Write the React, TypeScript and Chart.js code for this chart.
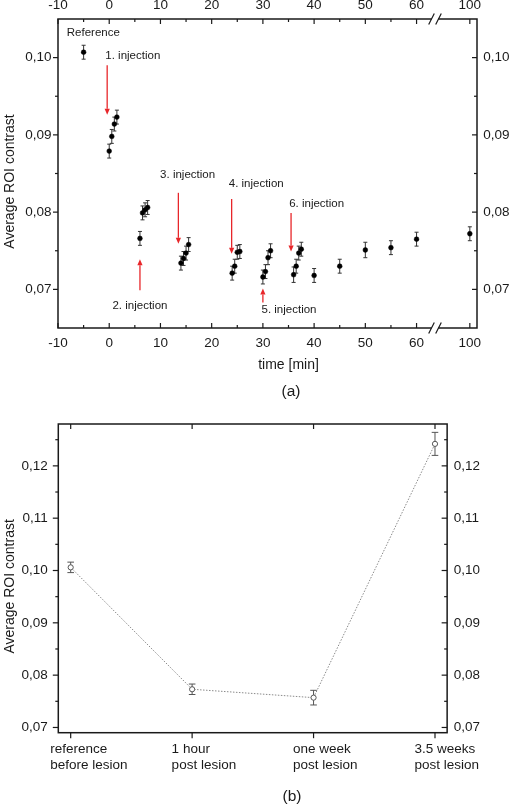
import React, { useEffect, useRef } from "react";
import { Chart, registerables } from "chart.js";
Chart.register(...registerables);

const FONT = "'Liberation Sans', Arial, Helvetica, sans-serif";
const INK = "#1a1a1a";
const RED = "#e8262a";

// ---------- Panel (a) data ----------
const timeMin = [-5, 0, 0.5, 1, 1.5, 6, 6.5, 7, 7.5, 14, 14.5, 15, 15.5, 24, 24.5, 25, 25.5, 30, 30.5, 31, 31.5, 36, 36.5, 37, 37.5, 40, 45, 50, 55, 60, 100];
const roiA = [0.1007, 0.0879, 0.0898, 0.0914, 0.0923, 0.0766, 0.0799, 0.0803, 0.0806, 0.0734, 0.0740, 0.0747, 0.0758, 0.0721, 0.0730, 0.0748, 0.0749, 0.0716, 0.0723, 0.0741, 0.0750, 0.0719, 0.0730, 0.0747, 0.0752, 0.0718, 0.0730, 0.0751, 0.0754, 0.0765, 0.0772];
const roiErrA = [0.0009, 0.0009, 0.0009, 0.0009, 0.0009, 0.0009, 0.0009, 0.0009, 0.0009, 0.0009, 0.0009, 0.0009, 0.0009, 0.0009, 0.0009, 0.0009, 0.0009, 0.0009, 0.0009, 0.0009, 0.0009, 0.0010, 0.0009, 0.0009, 0.0009, 0.0009, 0.0009, 0.0010, 0.0009, 0.0009, 0.0009];
const timeTicks = [-10, 0, 10, 20, 30, 40, 50, 60, 100];
const timeMinorTicks = [-5, 5, 15, 25, 35, 45, 55];
const yTicksA = [0.07, 0.08, 0.09, 0.1];
const yMinorA = [0.075, 0.085, 0.095];
const BREAK_AT = 63.6;
const BREAK_SHIFT = 29.6;

const noteText = ["Reference", "1. injection", "2. injection", "3. injection", "4. injection", "5. injection", "6. injection"];
const noteX = [-3.1, 4.6, 6.0, 15.3, 28.7, 35.1, 40.5];
const noteY = [0.1032, 0.1002, 0.0679, 0.0848, 0.0836, 0.0674, 0.0811];
const arrowX = [-0.4, 6.0, 13.5, 23.9, 30.0, 35.5];
const arrowFrom = [0.0990, 0.0699, 0.0825, 0.0817, 0.0683, 0.0799];
const arrowTo = [0.0926, 0.0739, 0.0759, 0.0746, 0.0701, 0.0749];

// ---------- Panel (b) data ----------
const stages = [
  ["reference", "before lesion"],
  ["1 hour", "post lesion"],
  ["one week", "post lesion"],
  ["3.5 weeks", "post lesion"],
];
const roiB = [0.1006, 0.0773, 0.0757, 0.1242];
const roiErrB = [0.0010, 0.0010, 0.0014, 0.0022];
const yTicksB = [0.07, 0.08, 0.09, 0.1, 0.11, 0.12];
const yMinorB = [0.075, 0.085, 0.095, 0.105, 0.115, 0.125];

const toAxis = (t: number) => (t > BREAK_AT ? t - BREAK_SHIFT : t);
const fromAxis = (v: number) => (v > BREAK_AT ? v + BREAK_SHIFT : v);
const fmtY = (v: number) => v.toFixed(2).replace(".", ",");

type TickSpec = { axis: string; values: number[]; len: number; inward: boolean };

function framePlugin(specs: TickSpec[], breakValue: number | null) {
  return {
    id: "frame",
    afterDraw(chart: any) {
      const { ctx, chartArea: ca } = chart;
      ctx.save();
      ctx.strokeStyle = INK;
      ctx.lineWidth = 1.5;
      ctx.strokeRect(ca.left, ca.top, ca.right - ca.left, ca.bottom - ca.top);
      ctx.lineWidth = 1.2;
      for (const s of specs) {
        const sc = chart.scales[s.axis];
        const pos = sc.options.position;
        for (const v of s.values) {
          const p = sc.getPixelForValue(v);
          ctx.beginPath();
          if (pos === "left" || pos === "right") {
            const x0 = pos === "left" ? ca.left : ca.right;
            const dir = (pos === "left" ? -1 : 1) * (s.inward ? -1 : 1);
            ctx.moveTo(x0, p);
            ctx.lineTo(x0 + dir * s.len, p);
          } else {
            const y0 = pos === "top" ? ca.top : ca.bottom;
            const dir = (pos === "top" ? -1 : 1) * (s.inward ? -1 : 1);
            ctx.moveTo(p, y0);
            ctx.lineTo(p, y0 + dir * s.len);
          }
          ctx.stroke();
        }
      }
      if (breakValue !== null) {
        const xb = chart.scales.x.getPixelForValue(breakValue);
        for (const y0 of [ca.top, ca.bottom]) {
          ctx.fillStyle = "#ffffff";
          ctx.fillRect(xb - 3.5, y0 - 2, 7, 4);
          ctx.strokeStyle = INK;
          ctx.lineWidth = 1.2;
          for (const dx of [-3.5, 3.5]) {
            ctx.beginPath();
            ctx.moveTo(xb + dx - 2.8, y0 + 5.5);
            ctx.lineTo(xb + dx + 2.8, y0 - 5.5);
            ctx.stroke();
          }
        }
      }
      ctx.restore();
    },
  };
}

function errorBarPlugin(errs: number[], color: string, cap: number) {
  return {
    id: "errbars",
    beforeDatasetsDraw(chart: any) {
      const { ctx } = chart;
      const meta = chart.getDatasetMeta(0);
      const ys = chart.scales[meta.yAxisID];
      const data = chart.data.datasets[0].data as any[];
      ctx.save();
      ctx.strokeStyle = color;
      ctx.lineWidth = 1;
      meta.data.forEach((pt: any, i: number) => {
        const v = data[i].y;
        const e = errs[i];
        const yt = ys.getPixelForValue(v + e);
        const yb = ys.getPixelForValue(v - e);
        ctx.beginPath();
        ctx.moveTo(pt.x, yt);
        ctx.lineTo(pt.x, yb);
        ctx.moveTo(pt.x - cap, yt);
        ctx.lineTo(pt.x + cap, yt);
        ctx.moveTo(pt.x - cap, yb);
        ctx.lineTo(pt.x + cap, yb);
        ctx.stroke();
      });
      ctx.restore();
    },
  };
}

function textPlugin(opts: { yTitle: string; xTitle?: string; xTitleAt?: number; caption: string; captionX: number; captionY: number }) {
  return {
    id: "texts",
    afterDraw(chart: any) {
      const { ctx, chartArea: ca } = chart;
      ctx.save();
      ctx.fillStyle = INK;
      ctx.textAlign = "center";
      ctx.textBaseline = "middle";
      ctx.font = `14px ${FONT}`;
      ctx.save();
      ctx.translate(10, (ca.top + ca.bottom) / 2 + 8);
      ctx.rotate(-Math.PI / 2);
      ctx.fillText(opts.yTitle, 0, 0);
      ctx.restore();
      if (opts.xTitle) {
        ctx.fillText(opts.xTitle, chart.scales.x.getPixelForValue(opts.xTitleAt), ca.bottom + 37);
      }
      ctx.font = `15.5px ${FONT}`;
      ctx.fillText(opts.caption, opts.captionX, opts.captionY);
      ctx.restore();
    },
  };
}

const notesPlugin = {
  id: "notes",
  afterDatasetsDraw(chart: any) {
    const { ctx } = chart;
    const xs = chart.scales.x;
    const ys = chart.scales.y;
    ctx.save();
    ctx.fillStyle = INK;
    ctx.font = `11.5px ${FONT}`;
    ctx.textAlign = "center";
    ctx.textBaseline = "middle";
    noteText.forEach((t, i) => ctx.fillText(t, xs.getPixelForValue(noteX[i]), ys.getPixelForValue(noteY[i])));
    ctx.strokeStyle = RED;
    ctx.fillStyle = RED;
    ctx.lineWidth = 1.3;
    arrowX.forEach((ax, i) => {
      const x = xs.getPixelForValue(ax);
      const y0 = ys.getPixelForValue(arrowFrom[i]);
      const y1 = ys.getPixelForValue(arrowTo[i]);
      const dir = y1 > y0 ? 1 : -1;
      const headLen = 6;
      ctx.beginPath();
      ctx.moveTo(x, y0);
      ctx.lineTo(x, y1 - dir * headLen);
      ctx.stroke();
      ctx.beginPath();
      ctx.moveTo(x, y1);
      ctx.lineTo(x - 2.6, y1 - dir * headLen);
      ctx.lineTo(x + 2.6, y1 - dir * headLen);
      ctx.closePath();
      ctx.fill();
    });
    ctx.restore();
  },
};

const tickFont = { family: FONT, size: 13.5 };

export default function App() {
  const refA = useRef<HTMLCanvasElement>(null);
  const refB = useRef<HTMLCanvasElement>(null);

  useEffect(() => {
    const timeTickLabel = (v: any) => String(Math.round(fromAxis(Number(v))));
    const setTimeTicks = (s: any) => {
      s.ticks = timeTicks.map((t) => ({ value: toAxis(t) }));
    };
    const baseX = {
      type: "linear" as const,
      min: -10,
      max: 71.8,
      afterBuildTicks: setTimeTicks,
      grid: { display: false, drawTicks: false },
      border: { display: false },
    };
    const baseYA = {
      type: "linear" as const,
      min: 0.065,
      max: 0.105,
      afterBuildTicks: (s: any) => {
        s.ticks = yTicksA.map((v) => ({ value: v }));
      },
      grid: { display: false, drawTicks: false },
      border: { display: false },
    };

    const chartA = new Chart(refA.current!, {
      type: "scatter",
      data: {
        datasets: [
          {
            data: timeMin.map((t, i) => ({ x: toAxis(t), y: roiA[i] })),
            xAxisID: "x",
            yAxisID: "y",
            pointRadius: 2.4,
            pointBackgroundColor: "#000",
            pointBorderColor: "#000",
            pointBorderWidth: 0.5,
            showLine: false,
          },
        ],
      },
      options: {
        animation: false,
        responsive: false,
        devicePixelRatio: 1,
        layout: { padding: 0 },
        plugins: { legend: { display: false }, tooltip: { enabled: false } },
        scales: {
          x: {
            ...baseX,
            position: "bottom",
            afterFit: (s: any) => { s.height = 72; },
            ticks: { padding: 7, font: tickFont, color: INK, maxRotation: 0, autoSkip: false, callback: timeTickLabel },
          },
          x2: {
            ...baseX,
            position: "top",
            afterFit: (s: any) => { s.height = 19; },
            ticks: { padding: 6, font: tickFont, color: INK, maxRotation: 0, autoSkip: false, callback: timeTickLabel },
          },
          y: {
            ...baseYA,
            position: "left",
            afterFit: (s: any) => { s.width = 58; },
            ticks: { padding: 6.5, font: tickFont, color: INK, callback: (v: any) => fmtY(Number(v)) },
          },
          y2: {
            ...baseYA,
            position: "right",
            afterFit: (s: any) => { s.width = 33; },
            ticks: { padding: 6.3, font: tickFont, color: INK, callback: (v: any) => fmtY(Number(v)) },
          },
        } as any,
      },
      plugins: [
        errorBarPlugin(roiErrA, "#333", 2),
        notesPlugin,
        framePlugin(
          [
            { axis: "y", values: yTicksA, len: 5, inward: false },
            { axis: "y", values: yMinorA, len: 3, inward: false },
            { axis: "y2", values: yTicksA, len: 5, inward: true },
            { axis: "y2", values: yMinorA, len: 3, inward: true },
            { axis: "x", values: timeTicks.map(toAxis), len: 5, inward: true },
            { axis: "x", values: timeMinorTicks, len: 3, inward: true },
            { axis: "x2", values: timeTicks.map(toAxis), len: 5, inward: true },
            { axis: "x2", values: timeMinorTicks, len: 3, inward: true },
          ],
          BREAK_AT
        ),
        textPlugin({ yTitle: "Average ROI contrast", xTitle: "time [min]", xTitleAt: 35, caption: "(a)", captionX: 291, captionY: 392 }),
      ] as any,
    } as any);

    const baseXB = {
      type: "linear" as const,
      min: -0.102,
      max: 3.1,
      afterBuildTicks: (s: any) => {
        s.ticks = stages.map((_, i) => ({ value: i }));
      },
      grid: { display: false, drawTicks: false },
      border: { display: false },
    };
    const baseYB = {
      type: "linear" as const,
      min: 0.069,
      max: 0.128,
      afterBuildTicks: (s: any) => {
        s.ticks = yTicksB.map((v) => ({ value: v }));
      },
      grid: { display: false, drawTicks: false },
      border: { display: false },
    };

    const chartB = new Chart(refB.current!, {
      type: "line",
      data: {
        datasets: [
          {
            data: roiB.map((v, i) => ({ x: i, y: v })),
            xAxisID: "x",
            yAxisID: "y",
            borderColor: "#8a8a8a",
            borderWidth: 1,
            borderDash: [1.5, 1.5],
            pointRadius: 2.6,
            pointBackgroundColor: "#ffffff",
            pointBorderColor: "#555",
            pointBorderWidth: 1,
            tension: 0,
          },
        ],
      },
      options: {
        animation: false,
        responsive: false,
        devicePixelRatio: 1,
        layout: { padding: 0 },
        plugins: { legend: { display: false }, tooltip: { enabled: false } },
        scales: {
          x: {
            ...baseXB,
            position: "bottom",
            afterFit: (s: any) => { s.height = 73.3; },
            ticks: {
              padding: 8.5,
              font: tickFont,
              color: INK,
              maxRotation: 0,
              autoSkip: false,
              align: "start",
              labelOffset: -20.5,
              callback: (v: any) => stages[Math.round(Number(v))] ?? "",
            },
          },
          x2: {
            ...baseXB,
            position: "top",
            afterFit: (s: any) => { s.height = 24; },
            ticks: { display: false },
          },
          y: {
            ...baseYB,
            position: "left",
            afterFit: (s: any) => { s.width = 58.3; },
            ticks: { padding: 10.6, font: tickFont, color: INK, callback: (v: any) => fmtY(Number(v)) },
          },
          y2: {
            ...baseYB,
            position: "right",
            afterFit: (s: any) => { s.width = 32.7; },
            ticks: { padding: 6.7, font: tickFont, color: INK, callback: (v: any) => fmtY(Number(v)) },
          },
        } as any,
      },
      plugins: [
        errorBarPlugin(roiErrB, "#555", 3.3),
        framePlugin(
          [
            { axis: "y", values: yTicksB, len: 5.5, inward: false },
            { axis: "y", values: yMinorB, len: 3, inward: false },
            { axis: "y2", values: yTicksB, len: 5.5, inward: true },
            { axis: "y2", values: yMinorB, len: 3, inward: true },
            { axis: "x", values: [0, 1, 2, 3], len: 5.5, inward: false },
            { axis: "x2", values: [0, 1, 2, 3], len: 5, inward: true },
          ],
          null
        ),
        textPlugin({ yTitle: "Average ROI contrast", caption: "(b)", captionX: 292, captionY: 397 }),
      ] as any,
    } as any);

    return () => {
      chartA.destroy();
      chartB.destroy();
    };
  }, []);

  return (
    <div style={{ position: "absolute", left: 0, top: 0, width: 510, height: 806, background: "#ffffff" }}>
      <canvas ref={refA} width={510} height={400} style={{ display: "block" }} />
      <canvas ref={refB} width={510} height={406} style={{ display: "block" }} />
    </div>
  );
}
